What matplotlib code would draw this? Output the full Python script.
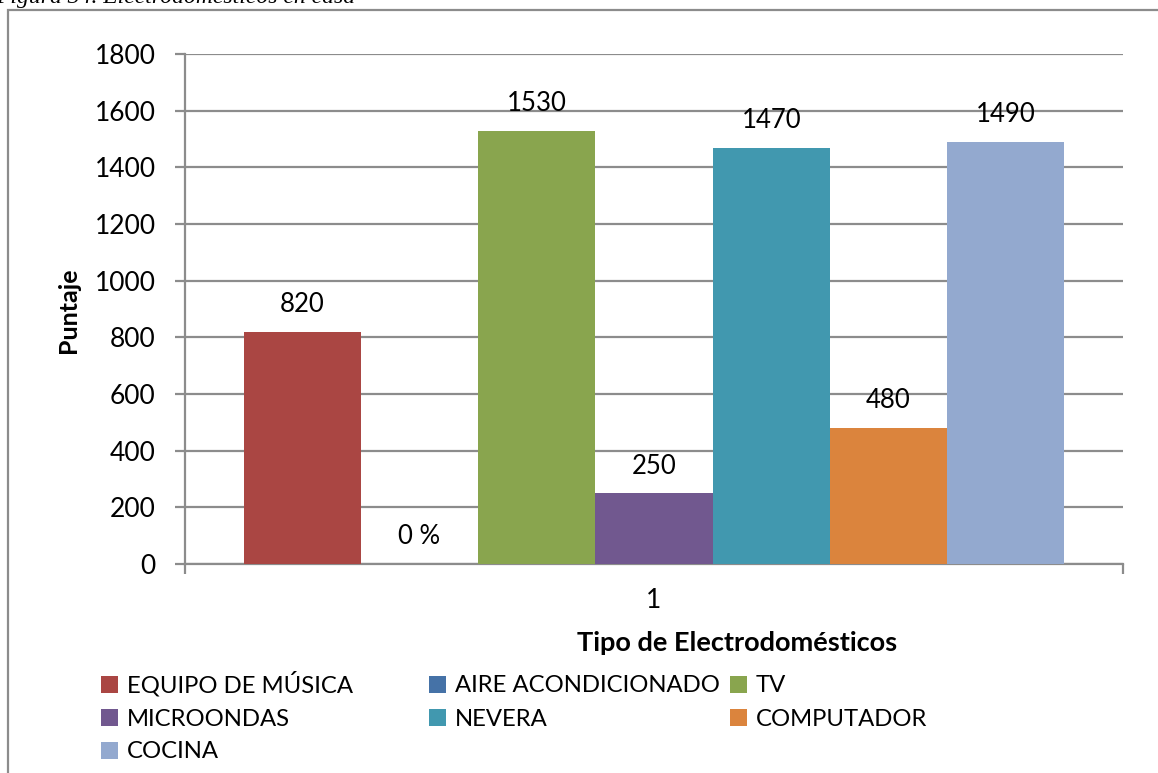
import matplotlib
matplotlib.use("Agg")
import matplotlib.pyplot as plt
from matplotlib.patches import Rectangle

categories = ["EQUIPO DE MÚSICA", "AIRE ACONDICIONADO", "TV", "MICROONDAS",
              "NEVERA", "COMPUTADOR", "COCINA"]
values = [820, 0, 1530, 250, 1470, 480, 1490]
value_labels = ["820", "0 %", "1530", "250", "1470", "480", "1490"]
colors = ["#AA4643", "#4572A7", "#89A54E", "#71588F", "#4198AF", "#DB843D", "#93A9CF"]
yticks = [0, 200, 400, 600, 800, 1000, 1200, 1400, 1600, 1800]
xtick_labels = ["1"]

W, H = 1158, 773
plt.rcParams["font.family"] = ["Lato", "DejaVu Sans"]
fig = plt.figure(figsize=(W / 100, H / 100), dpi=100)


def fx(px):
    return px / W


def fy(py):
    return 1 - py / H


# outer chart frame
fig.patches.append(Rectangle((fx(8), fy(790)), fx(1170) - fx(8), fy(10) - fy(790),
                             transform=fig.transFigure, fill=False,
                             edgecolor="#8c8c8c", linewidth=1.6))
fig.text(fx(-4), fy(3), "Figura 34. Electrodomésticos en casa", family="Liberation Serif",
         style="italic", fontsize=17, va="baseline", ha="left")

ax = fig.add_axes([fx(185), fy(564), fx(1123) - fx(185), fy(54) - fy(564)])
n = len(values)
bw = 1.0 / (n + 1)
for i, (v, c, lab) in enumerate(zip(values, colors, value_labels)):
    x = (i - (n - 1) / 2) * bw
    ax.bar(x, v, width=bw, color=c, zorder=3)
    ax.annotate(lab, (x, v), xytext=(0, 19.5), textcoords="offset points",
                ha="center", va="center", fontsize=18.5)

ax.set_xlim(-0.5, 0.5)
ax.set_ylim(0, 1800)
ax.set_yticks(yticks)
ax.set_xticks([-0.5, 0.5])
ax.set_xticklabels(["", ""])
ax.yaxis.grid(True, color="#8c8c8c", linewidth=1.6, zorder=0)
ax.set_axisbelow(True)
for s in ["top", "right"]:
    ax.spines[s].set_visible(False)
for s in ["left", "bottom"]:
    ax.spines[s].set_color("#8c8c8c")
    ax.spines[s].set_linewidth(1.6)
ax.tick_params(axis="y", length=7.2, width=1.6, color="#8c8c8c", pad=14, labelsize=19)
ax.tick_params(axis="x", length=7.2, width=1.6, color="#8c8c8c")
ax.spines["left"].set_bounds(0, 1800)

fig.text(fx(654), fy(601), xtick_labels[0], ha="center", va="center", fontsize=19)
fig.text(fx(737), fy(643), "Tipo de Electrodomésticos", ha="center", va="center",
         fontsize=19.5, fontweight="bold")
fig.text(fx(68), fy(310), "Puntaje", ha="center", va="center", rotation=90,
         fontsize=18, fontweight="bold")

# legend, three columns
col_x = [101, 429, 730]
row_y = [684, 717, 750]
sq = 17
for i, (name, c) in enumerate(zip(categories, colors)):
    r, k = divmod(i, 3)
    x0, y0 = col_x[k], row_y[r]
    fig.patches.append(Rectangle((fx(x0), fy(y0 + sq / 2)), fx(sq), sq / H,
                                 transform=fig.transFigure, facecolor=c, edgecolor="none"))
    fig.text(fx(x0 + 26), fy(y0 + 8.5), name, ha="left", va="baseline", fontsize=17.2)

fig.savefig("out.png", dpi=100)
